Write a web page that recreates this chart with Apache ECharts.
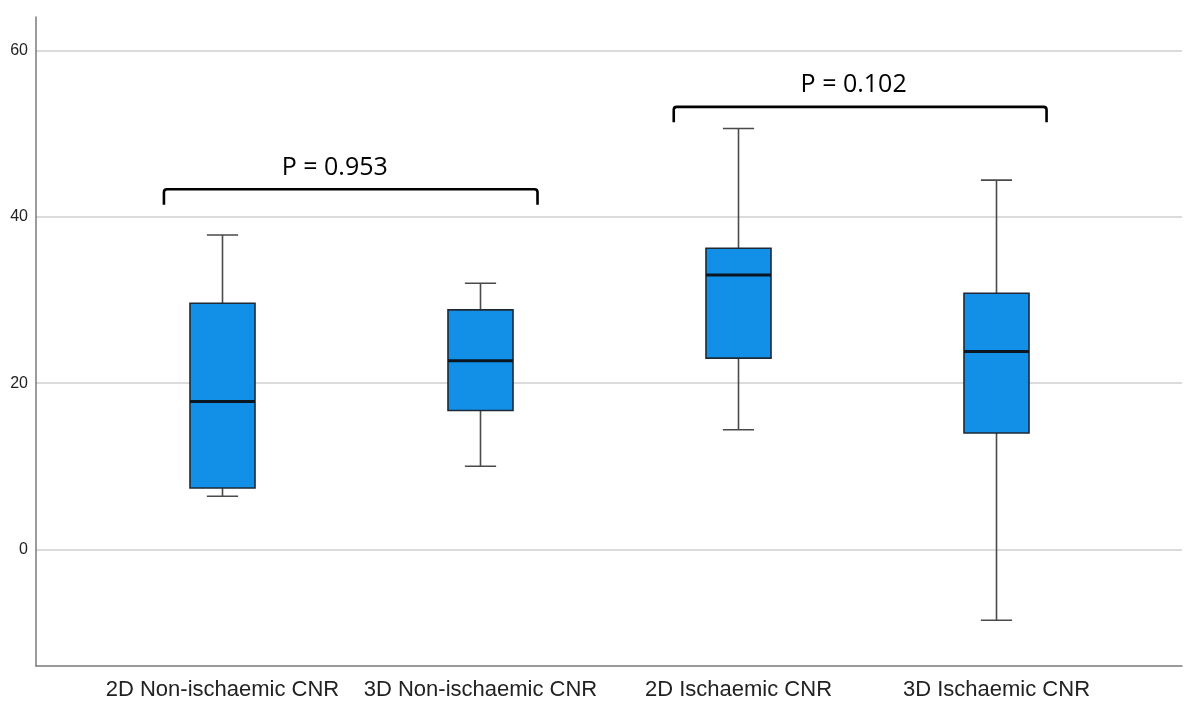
<!DOCTYPE html>
<html>
<head>
<meta charset="utf-8">
<script src="https://cdn.jsdelivr.net/npm/echarts@6/dist/echarts.min.js"></script>
<style>
html,body{margin:0;padding:0;background:#fff;}
#chart{width:1200px;height:711px;}
</style>
</head>
<body>
<div id="chart"></div>
<script>
// ---- data ----
var categories = ['2D Non-ischaemic CNR', '3D Non-ischaemic CNR', '2D Ischaemic CNR', '3D Ischaemic CNR'];
var whiskerLow  = [6.4, 10.0, 14.4, -8.5];
var q1          = [7.4, 16.7, 23.0, 14.0];
var median      = [17.8, 22.7, 33.0, 23.8];
var q3          = [29.6, 28.8, 36.2, 30.8];
var whiskerHigh = [37.8, 32.0, 50.6, 44.4];
var yTicks = [0, 20, 40, 60];
var comparisons = [
  { from: 0, to: 1, level: 43.3, label: 'P = 0.953' },
  { from: 2, to: 3, level: 53.2, label: 'P = 0.102' }
];

var boxData = categories.map(function (c, i) {
  return [i, whiskerLow[i], q1[i], median[i], q3[i], whiskerHigh[i]];
});
var bracketData = comparisons.map(function (c) {
  return [c.from, c.to, c.level];
});

var chart = echarts.init(document.getElementById('chart'));

function renderBox(params, api) {
  var idx = api.value(0);
  var band = api.size([1, 0])[0];
  var w = band * 0.252;
  var cap = w * 0.48;
  var pLow = api.coord([idx, api.value(1)]);
  var pQ1 = api.coord([idx, api.value(2)]);
  var pMed = api.coord([idx, api.value(3)]);
  var pQ3 = api.coord([idx, api.value(4)]);
  var pHigh = api.coord([idx, api.value(5)]);
  var x = pMed[0];
  var wStyle = { stroke: '#4a4a4a', lineWidth: 1.6 };
  return {
    type: 'group',
    children: [
      { type: 'line', shape: { x1: x, y1: pHigh[1], x2: x, y2: pQ3[1] }, style: wStyle },
      { type: 'line', shape: { x1: x, y1: pLow[1], x2: x, y2: pQ1[1] }, style: wStyle },
      { type: 'line', shape: { x1: x - cap / 2, y1: pHigh[1], x2: x + cap / 2, y2: pHigh[1] }, style: wStyle },
      { type: 'line', shape: { x1: x - cap / 2, y1: pLow[1], x2: x + cap / 2, y2: pLow[1] }, style: wStyle },
      { type: 'rect', shape: { x: x - w / 2, y: pQ3[1], width: w, height: pQ1[1] - pQ3[1] },
        style: { fill: '#1290e8', stroke: '#1e2a36', lineWidth: 1.6 } },
      { type: 'line', shape: { x1: x - w / 2, y1: pMed[1], x2: x + w / 2, y2: pMed[1] },
        style: { stroke: '#0a1622', lineWidth: 3 } }
    ]
  };
}

function renderBracket(params, api) {
  var band = api.size([1, 0])[0];
  var i = params.dataIndex;
  var offsL = i === 0 ? -0.227 : -0.251;
  var offsR = i === 0 ? 0.221 : 0.194;
  var a = api.coord([api.value(0), api.value(2)]);
  var b = api.coord([api.value(1), api.value(2)]);
  var drop = 15.5;
  var xL = a[0] + offsL * band;
  var xR = b[0] + offsR * band;
  var y = a[1];
  var r = 3;
  var textX = i === 0 ? (xL + xR) / 2 - 16 : (xL + xR) / 2 - 6.5;
  return {
    type: 'group',
    children: [
      { type: 'path',
        shape: {
          pathData: 'M' + xL + ' ' + (y + drop) + ' L' + xL + ' ' + (y + r) +
            ' Q' + xL + ' ' + y + ' ' + (xL + r) + ' ' + y +
            ' L' + (xR - r) + ' ' + y +
            ' Q' + xR + ' ' + y + ' ' + xR + ' ' + (y + r) +
            ' L' + xR + ' ' + (y + drop)
        },
        style: { fill: null, stroke: '#000', lineWidth: 2.6 } },
      { type: 'text',
        style: { x: textX, y: y - 9, text: comparisons[i].label, fill: '#000',
          font: '25px "Open Sans"', align: 'center', verticalAlign: 'bottom' } }
    ]
  };
}

var option = {
  animation: false,
  backgroundColor: '#fff',
  grid: [
    { left: 36, right: 18, top: 17, bottom: 45 },
    { left: 93.5, right: 74.5, top: 17, bottom: 45 }
  ],
  xAxis: [
    { gridIndex: 0, type: 'value', min: 0, max: 1,
      axisLine: { show: true, onZero: false, lineStyle: { color: '#7a7a7a', width: 1.5 } },
      axisTick: { show: false }, axisLabel: { show: false }, splitLine: { show: false } },
    { gridIndex: 1, type: 'category', data: categories,
      axisLine: { show: false, onZero: false }, axisTick: { show: false }, splitLine: { show: false },
      axisLabel: { interval: 0, color: '#222', fontFamily: 'Liberation Sans', fontSize: 22, margin: 13 } }
  ],
  yAxis: [
    { gridIndex: 0, type: 'value', min: -14, max: 64,
      axisLine: { show: true, onZero: false, lineStyle: { color: '#7a7a7a', width: 1.5 } },
      axisTick: { show: false, customValues: yTicks },
      axisLabel: { color: '#222', fontFamily: 'Liberation Sans', fontSize: 16, margin: 8, customValues: yTicks },
      splitLine: { show: true, lineStyle: { color: '#cfcfcf', width: 1.5 } } },
    { gridIndex: 1, type: 'value', min: -14, max: 64, show: false, splitLine: { show: false } }
  ],
  series: [
    { type: 'custom', xAxisIndex: 1, yAxisIndex: 1, renderItem: renderBox, data: boxData, clip: false, z: 3 },
    { type: 'custom', xAxisIndex: 1, yAxisIndex: 1, renderItem: renderBracket, data: bracketData, clip: false, z: 4 }
  ]
};
chart.setOption(option);
</script>
</body>
</html>
